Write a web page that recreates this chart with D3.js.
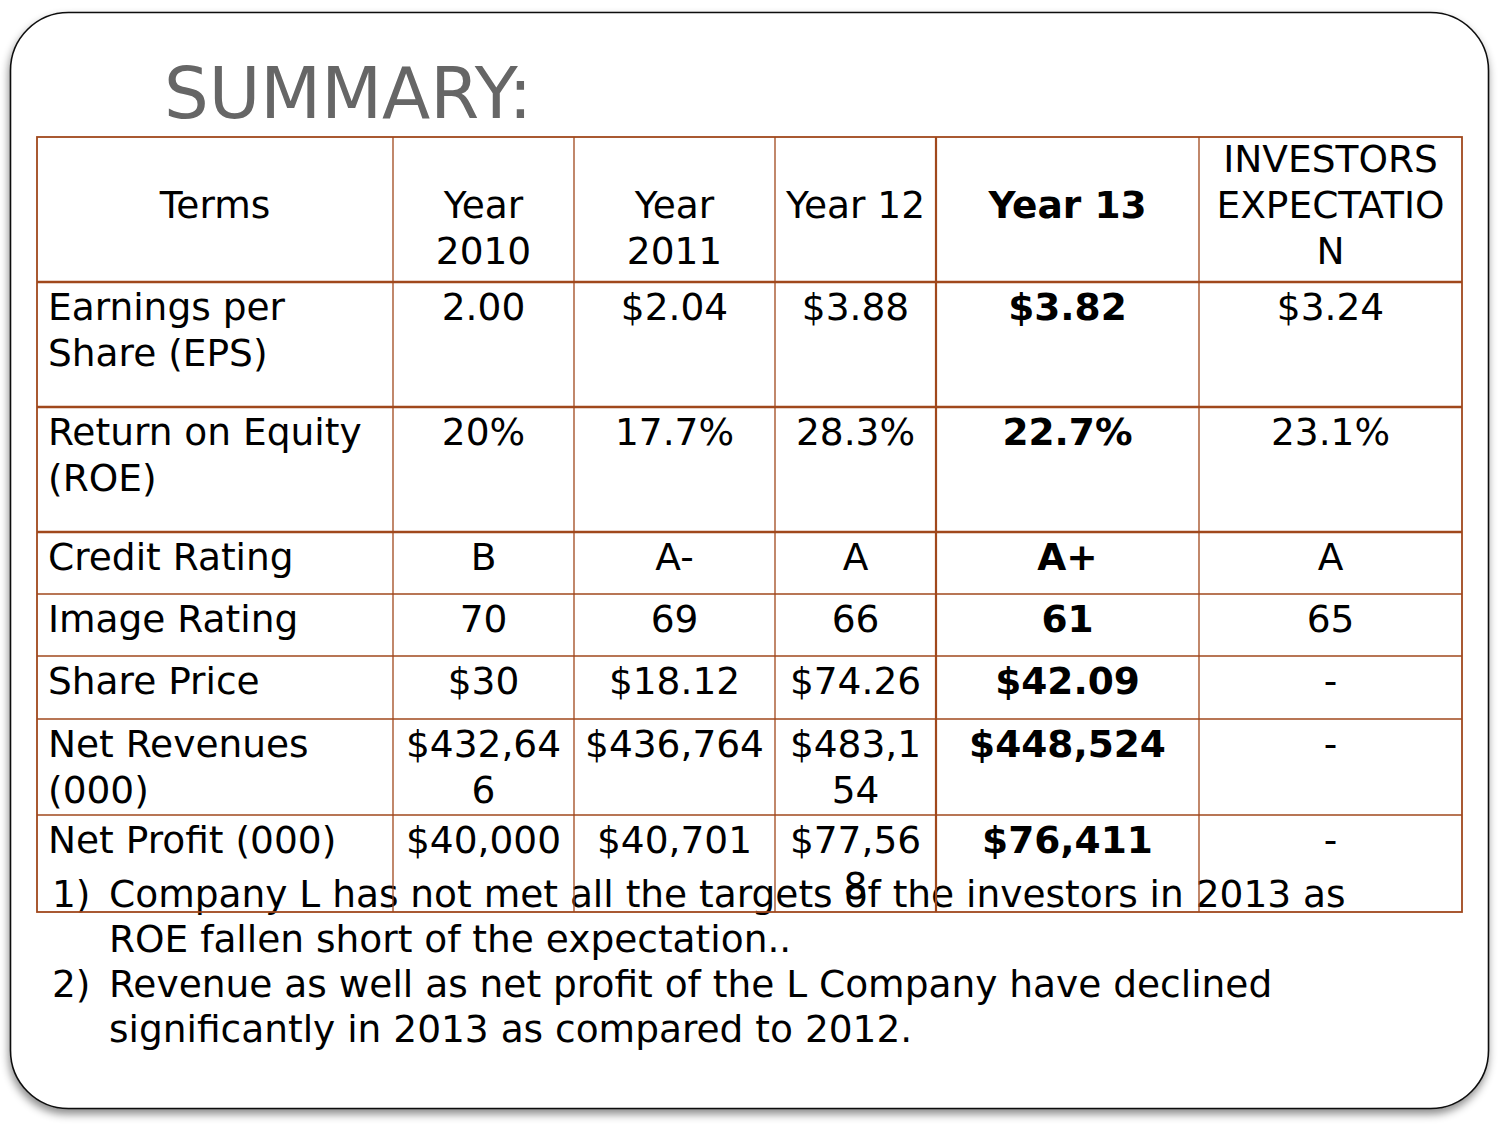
<!DOCTYPE html>
<html>
<head>
<meta charset="utf-8">
<script src="https://cdn.jsdelivr.net/npm/d3@7"></script>
<style>
  html, body { margin: 0; padding: 0; background: #ffffff; }
  svg { display: block; }
  text { font-family: "DejaVu Sans", sans-serif; }
</style>
</head>
<body>
<script>
// ---------------- DATA ----------------
const title = "SUMMARY:";
const columns = ["Terms", "Year 2010", "Year 2011", "Year 12", "Year 13", "INVESTORS EXPECTATION"];
const boldColumn = "Year 13";
const rowLabels = [
  "Earnings per Share (EPS)",
  "Return on Equity (ROE)",
  "Credit Rating",
  "Image Rating",
  "Share Price",
  "Net Revenues (000)",
  "Net Profit (000)"
];
const year2010 = ["2.00", "20%", "B", "70", "$30", "$432,646", "$40,000"];
const year2011 = ["$2.04", "17.7%", "A-", "69", "$18.12", "$436,764", "$40,701"];
const year12   = ["$3.88", "28.3%", "A", "66", "$74.26", "$483,154", "$77,568"];
const year13   = ["$3.82", "22.7%", "A+", "61", "$42.09", "$448,524", "$76,411"];
const investorsExpectation = ["$3.24", "23.1%", "A", "65", "-", "-", "-"];
const notes = [
  "Company L has not met all the targets of the investors in 2013 as ROE fallen short of the expectation..",
  "Revenue as well as net profit of the L Company have declined significantly in 2013 as compared to 2012."
];

// ---------------- LAYOUT ----------------
const W = 1500, H = 1125;
const colWeights = [356, 181, 201, 161, 263, 263];
const rowWeights = [145, 125, 125, 62, 62, 63, 96, 97];
const tableLeft = 37, tableRight = 1462, tableTop = 137, tableBottom = 912;
const fontSize = 37.5, lineH = 46, padX = 10.5;
const lineColor = "#A0481C";

const svg = d3.select("body").append("svg").attr("width", W).attr("height", H);

const defs = svg.append("defs");
const f = defs.append("filter").attr("id", "shadow").attr("x", "-5%").attr("y", "-5%").attr("width", "110%").attr("height", "112%");
f.append("feDropShadow").attr("dx", -1).attr("dy", 5).attr("stdDeviation", 4)
  .attr("flood-color", "#000").attr("flood-opacity", 0.45);

// slide frame
svg.append("rect")
  .attr("x", 10.5).attr("y", 12.5).attr("width", 1478).attr("height", 1096)
  .attr("rx", 58).attr("ry", 58)
  .attr("fill", "#fff").attr("stroke", "#111").attr("stroke-width", 1.6)
  .attr("filter", "url(#shadow)");

// title
svg.append("text").attr("x", 164).attr("y", 118)
  .attr("font-size", 70.5).attr("fill", "#666666").text(title);

// scales
const colCum = [0]; colWeights.forEach(w => colCum.push(colCum[colCum.length - 1] + w));
const rowCum = [0]; rowWeights.forEach(w => rowCum.push(rowCum[rowCum.length - 1] + w));
const x = d3.scaleLinear().domain([0, colCum[colCum.length - 1]]).range([tableLeft, tableRight]);
const y = d3.scaleLinear().domain([0, rowCum[rowCum.length - 1]]).range([tableTop, tableBottom]);
const colX = i => x(colCum[i]);
const colW = i => x(colCum[i + 1]) - x(colCum[i]);
const rowY = i => y(rowCum[i]);

// measuring helper
const meas = svg.append("text").attr("font-size", fontSize).attr("visibility", "hidden");
function textW(s, bold) {
  meas.attr("font-weight", bold ? "bold" : "normal").text(s);
  return meas.node().getComputedTextLength();
}
function wrap(str, maxW, bold) {
  const words = str.split(" ");
  const lines = [];
  let cur = "";
  words.forEach(w => {
    const cand = cur ? cur + " " + w : w;
    if (textW(cand, bold) <= maxW) { cur = cand; return; }
    if (cur) { lines.push(cur); cur = ""; }
    let piece = "";
    for (const ch of w) {
      if (textW(piece + ch, bold) <= maxW || piece === "") piece += ch;
      else { lines.push(piece); piece = ch; }
    }
    cur = piece;
  });
  if (cur) lines.push(cur);
  return lines;
}

const seriesCols = [year2010, year2011, year12, year13, investorsExpectation];

// cells
const cells = [];
columns.forEach((c, ci) => cells.push({ r: -1, c: ci, text: c, bold: c === boldColumn }));
rowLabels.forEach((lab, ri) => {
  cells.push({ r: ri, c: 0, text: lab, bold: false });
  seriesCols.forEach((s, si) => cells.push({ r: ri, c: si + 1, text: s[ri], bold: columns[si + 1] === boldColumn }));
});

const gCells = svg.append("g");
cells.forEach(d => {
  const maxW = colW(d.c) - 2 * padX;
  const lines = wrap(d.text, maxW, d.bold);
  const isLabel = d.c === 0 && d.r >= 0;
  const tx = isLabel ? colX(0) + 11 : colX(d.c) + colW(d.c) / 2;
  let y0;
  if (d.r === -1) {
    y0 = 218 - Math.floor((lines.length - 1) / 2) * lineH;
  } else {
    y0 = rowY(d.r + 1) + 38;
  }
  const t = gCells.append("text")
    .attr("font-size", fontSize)
    .attr("font-weight", d.bold ? "bold" : "normal")
    .attr("fill", "#000")
    .attr("text-anchor", isLabel ? "start" : "middle");
  lines.forEach((ln, li) => t.append("tspan").attr("x", tx).attr("y", y0 + li * lineH).text(ln));
});

// notes
const gNotes = svg.append("g");
let ny = 907;
notes.forEach((n, i) => {
  gNotes.append("text").attr("x", 52).attr("y", ny).attr("font-size", fontSize).text((i + 1) + ")");
  const lines = wrap(n, 1285, false);
  lines.forEach(ln => {
    gNotes.append("text").attr("x", 109).attr("y", ny).attr("font-size", fontSize).text(ln);
    ny += 45;
  });
});

// grid lines
const thickRows = new Set([1, 2, 3]);
const thickCols = new Set([4]);
const gGrid = svg.append("g").attr("stroke", lineColor).attr("fill", "none");
for (let r = 1; r < rowWeights.length; r++) {
  gGrid.append("line").attr("x1", tableLeft).attr("x2", tableRight)
    .attr("y1", rowY(r)).attr("y2", rowY(r))
    .attr("stroke-width", thickRows.has(r) ? 2.4 : 1.3);
}
for (let c = 1; c < colWeights.length; c++) {
  gGrid.append("line").attr("y1", tableTop).attr("y2", tableBottom)
    .attr("x1", colX(c)).attr("x2", colX(c))
    .attr("stroke-width", thickCols.has(c) ? 2.2 : 1.3);
}
gGrid.append("rect").attr("x", tableLeft).attr("y", tableTop)
  .attr("width", tableRight - tableLeft).attr("height", tableBottom - tableTop)
  .attr("stroke-width", 1.8);
meas.remove();
</script>
</body>
</html>
